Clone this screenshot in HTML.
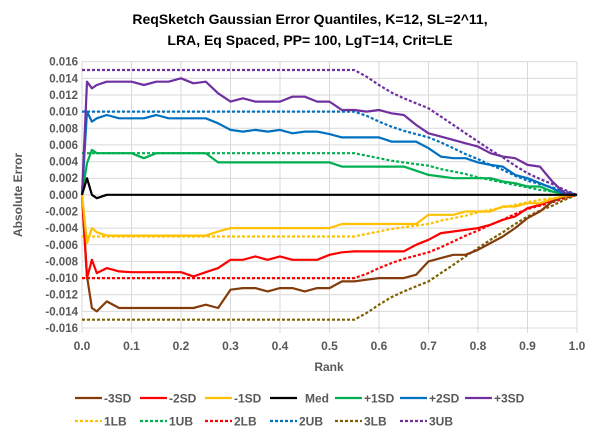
<!DOCTYPE html>
<html><head><meta charset="utf-8"><style>
body{margin:0;background:#fff;font-family:"Liberation Sans",Arial,sans-serif;}
svg text{font-family:"Liberation Sans",Arial,sans-serif;font-weight:bold;}
</style></head><body>
<svg id="chart" width="598" height="438" xmlns="http://www.w3.org/2000/svg">
<rect width="598" height="438" fill="#fff"/>
<text x="310" y="24" font-size="14" text-anchor="middle" fill="#000">ReqSketch Gaussian Error Quantiles, K=12, SL=2^11,</text>
<text x="310" y="45" font-size="14" text-anchor="middle" fill="#000">LRA, Eq Spaced, PP= 100, LgT=14, Crit=LE</text>
<g id="grid"></g><g id="axes"></g><g id="series"></g><g id="legend"></g>
<text x="329" y="371" font-size="12" text-anchor="middle" fill="#595959">Rank</text>
<text transform="translate(22,195) rotate(-90)" font-size="12" text-anchor="middle" fill="#595959">Absolute Error</text>
</svg>
<script>
const ranks=[0,0.01,0.02,0.03,0.05,0.075,0.1,0.125,0.15,0.175,0.2,0.225,0.25,0.275,0.3,0.325,0.35,0.375,0.4,0.425,0.45,0.475,0.5,0.525,0.55,0.575,0.6,0.625,0.65,0.675,0.7,0.725,0.75,0.775,0.8,0.825,0.85,0.875,0.9,0.925,0.95,0.975,1];
const p3sd=[0,13.6,12.8,13.2,13.6,13.6,13.6,13.2,13.6,13.6,14.0,13.4,13.6,12.2,11.2,11.6,11.2,11.2,11.2,11.8,11.8,11.2,11.2,10.2,10.2,10.0,10.2,9.8,9.6,8.4,7.4,7.0,6.6,6.2,5.8,5.0,4.6,4.4,3.6,3.4,1.6,0.2,0];
const p2sd=[0,10.0,8.8,9.2,9.6,9.2,9.2,9.2,9.6,9.2,9.2,9.2,9.2,8.6,7.8,7.6,7.8,7.6,7.8,7.4,7.6,7.6,7.3,6.9,6.9,6.9,6.9,6.4,6.4,6.4,5.6,4.6,4.4,4.4,3.9,3.6,3.4,2.4,2.0,1.4,0.8,0.1,0];
const p1sd=[0,3.8,5.4,5.0,5.0,5.0,5.0,4.4,5.0,5.0,5.0,5.0,5.0,3.9,3.9,3.9,3.9,3.9,3.9,3.9,3.9,3.9,3.9,3.4,3.4,3.4,3.4,3.4,3.4,2.9,2.4,2.2,2.0,2.0,2.0,2.0,1.6,1.4,1.0,1.0,0.4,0.1,0];
const med=[0,2.0,0,-0.4,0,0,0,0,0,0,0,0,0,0,0,0,0,0,0,0,0,0,0,0,0,0,0,0,0,0,0,0,0,0,0,0,0,0,0,0,0,0,0];
const m1sd=[0,-5.8,-4.0,-4.5,-4.9,-4.9,-4.9,-4.9,-4.9,-4.9,-4.9,-4.9,-4.9,-4.4,-4.0,-4.0,-4.0,-4.0,-4.0,-4.0,-4.0,-4.0,-4.0,-3.5,-3.5,-3.5,-3.5,-3.5,-3.5,-3.5,-2.4,-2.4,-2.4,-2.0,-2.0,-2.0,-1.4,-1.4,-1.0,-1.0,-0.5,-0.1,0];
const m2sd=[0,-10.0,-7.8,-9.4,-8.8,-9.2,-9.3,-9.3,-9.3,-9.3,-9.3,-9.8,-9.3,-8.8,-7.8,-7.8,-7.4,-7.8,-7.4,-7.8,-7.8,-7.8,-7.2,-6.9,-6.8,-6.8,-6.8,-6.8,-6.8,-6.0,-5.4,-4.6,-4.4,-4.2,-4.0,-3.6,-3.0,-2.6,-1.6,-1.2,-0.6,-0.1,0];
const m3sd=[0,-9.8,-13.6,-14.0,-12.8,-13.6,-13.6,-13.6,-13.6,-13.6,-13.6,-13.6,-13.2,-13.6,-11.4,-11.2,-11.2,-11.6,-11.2,-11.2,-11.6,-11.2,-11.2,-10.4,-10.4,-10.2,-10.0,-10.0,-10.0,-9.6,-8.0,-7.6,-7.2,-7.2,-6.6,-5.8,-5.0,-4.0,-2.8,-2.0,-0.8,-0.2,0];
const ub3=[15,15,15,15,15,15,15,15,15,15,15,15,15,15,15,15,15,15,15,15,15,15,15,15,15,14.2,13.2,12.3,11.6,11.0,10.4,9.4,8.4,7.4,6.4,5.4,4.5,3.5,2.6,1.9,1.3,0.6,0];
const ub2=[10,10,10,10,10,10,10,10,10,10,10,10,10,10,10,10,10,10,10,10,10,10,10,10,10,9.5,8.8,8.2,7.7,7.3,6.9,6.3,5.6,4.9,4.3,3.6,3.0,2.3,1.7,1.3,0.9,0.4,0];
const ub1=[5,5,5,5,5,5,5,5,5,5,5,5,5,5,5,5,5,5,5,5,5,5,5,5,5,4.7,4.4,4.1,3.9,3.7,3.5,3.1,2.8,2.5,2.1,1.8,1.5,1.2,0.9,0.6,0.4,0.2,0];
const lb1=[-5,-5,-5,-5,-5,-5,-5,-5,-5,-5,-5,-5,-5,-5,-5,-5,-5,-5,-5,-5,-5,-5,-5,-5,-5,-4.7,-4.4,-4.1,-3.9,-3.7,-3.5,-3.1,-2.8,-2.5,-2.1,-1.8,-1.5,-1.2,-0.9,-0.6,-0.4,-0.2,0];
const lb2=[-10,-10,-10,-10,-10,-10,-10,-10,-10,-10,-10,-10,-10,-10,-10,-10,-10,-10,-10,-10,-10,-10,-10,-10,-10,-9.5,-8.8,-8.2,-7.7,-7.3,-6.9,-6.3,-5.6,-4.9,-4.3,-3.6,-3.0,-2.3,-1.7,-1.3,-0.9,-0.4,0];
const lb3=[-15,-15,-15,-15,-15,-15,-15,-15,-15,-15,-15,-15,-15,-15,-15,-15,-15,-15,-15,-15,-15,-15,-15,-15,-15,-14.2,-13.2,-12.3,-11.6,-11.0,-10.4,-9.4,-8.4,-7.4,-6.4,-5.4,-4.5,-3.5,-2.6,-1.9,-1.3,-0.6,0];
const xTicks=[0,0.1,0.2,0.3,0.4,0.5,0.6,0.7,0.8,0.9,1.0];
const yTicks=[-16,-14,-12,-10,-8,-6,-4,-2,0,2,4,6,8,10,12,14,16];

const NS='http://www.w3.org/2000/svg';
const X0=82,X1=577,Y0=328,Y1=61.7;
const xs=r=>X0+(X1-X0)*r;
const ys=v=>Y0+(Y1-Y0)*(v+16)/32;
function mk(tag,attrs,parent){const e=document.createElementNS(NS,tag);for(const k in attrs)e.setAttribute(k,attrs[k]);parent.appendChild(e);return e;}
const grid=document.getElementById('grid'),axes=document.getElementById('axes'),ser=document.getElementById('series'),leg=document.getElementById('legend');
xTicks.forEach(t=>{
  const l=mk('line',{x1:xs(t),x2:xs(t),y1:Y1,y2:Y0+5,stroke:'#d9d9d9','stroke-width':1},grid);
  
  
  const tx=mk('text',{x:xs(t),y:Y0+22,'font-size':12,'text-anchor':'middle',fill:'#595959'},axes);
  tx.textContent=t.toFixed(1);
  
  
});
yTicks.forEach(t=>{
  const l=mk('line',{x1:X0,x2:X1,y1:ys(t),y2:ys(t),stroke:'#d9d9d9','stroke-width':1},grid);
  
  
  const tx=mk('text',{x:X0-4,y:ys(t)+4,'font-size':11.5,'text-anchor':'end',fill:'#595959'},axes);
  tx.textContent=(t/1000).toFixed(3);
  
  
});
const specs=[
 {n:'-3SD',d:m3sd,c:'#843c0c',dash:false},
 {n:'-2SD',d:m2sd,c:'#ff0000',dash:false},
 {n:'-1SD',d:m1sd,c:'#ffc000',dash:false},
 {n:'Med',d:med,c:'#000000',dash:false},
 {n:'+1SD',d:p1sd,c:'#00b050',dash:false},
 {n:'+2SD',d:p2sd,c:'#0070c0',dash:false},
 {n:'+3SD',d:p3sd,c:'#7030a0',dash:false},
 {n:'1LB',d:lb1,c:'#ffc000',dash:true},
 {n:'1UB',d:ub1,c:'#00b050',dash:true},
 {n:'2LB',d:lb2,c:'#ff0000',dash:true},
 {n:'2UB',d:ub2,c:'#0070c0',dash:true},
 {n:'3LB',d:lb3,c:'#7f6000',dash:true},
 {n:'3UB',d:ub3,c:'#7030a0',dash:true}
];
const order=[7,8,9,10,11,12,0,1,2,4,5,6,3];
order.forEach(i=>{
  const s=specs[i];
  const pts=s.d.map((v,j)=>xs(ranks[j]).toFixed(1)+','+ys(v).toFixed(1)).join(' ');
  const p=mk('polyline',{points:pts,fill:'none',stroke:s.c,'stroke-width':2.2,'stroke-linejoin':'round'},ser);
  if(s.dash)p.setAttribute('stroke-dasharray','3,2');
  
  
});
specs.forEach((s,i)=>{
  const row=i<7?0:1,col=i<7?i:i-7;
  const x=75+col*65,y=row===0?398:421;
  const g=mk('g',{},leg);
  
  
  const l=mk('line',{x1:x,x2:x+27,y1:y,y2:y,stroke:s.c,'stroke-width':2.2},g);
  if(s.dash)l.setAttribute('stroke-dasharray','3,2');
  const t=mk('text',{x:s.n==='Med'?x+35:x+29,y:y+4.5,'font-size':12,fill:'#595959'},g);
  t.textContent=s.n;
});
</script>
</body></html>
